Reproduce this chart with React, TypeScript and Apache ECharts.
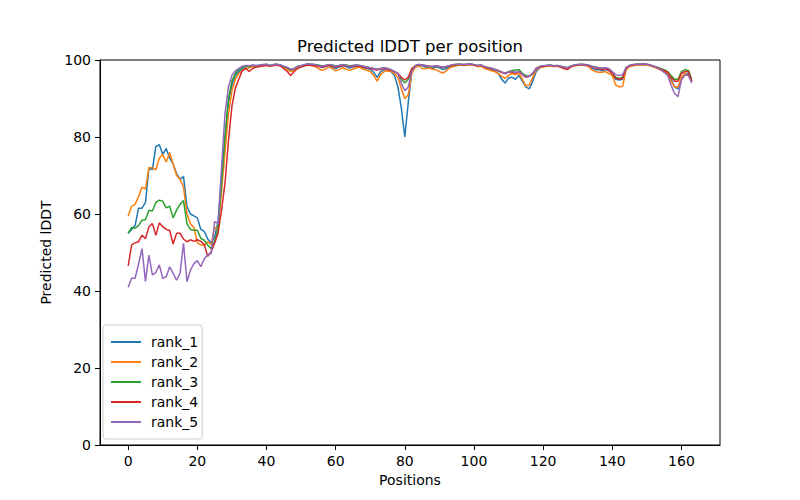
import React, { useEffect, useRef } from "react";
import * as echarts from "echarts";

const seriesNames = ["rank_1", "rank_2", "rank_3", "rank_4", "rank_5"];
const colors = ["#1f77b4", "#ff7f0e", "#2ca02c", "#d62728", "#9467bd"];
const xTicks = [0, 20, 40, 60, 80, 100, 120, 140, 160];
const titleText = "Predicted lDDT per position";
const xLabel = "Positions";
const yLabel = "Predicted lDDT";

const rank1 = [
  55, 56, 57, 61.5, 61.5, 63, 72, 71.5, 77.5, 78,
  75.5, 77, 74.5, 73, 70.5, 69, 69.7, 62, 60, 59.5,
  59, 56, 55.5, 53.5, 52.5, 54, 58, 70, 80, 89,
  93.5, 96, 97, 97.8, 98.3, 98.2, 98.5, 98.4, 98.5, 98.6,
  98.8, 98.5, 98.7, 98.8, 98.6, 98.2, 97.8, 97.2, 97.6, 98.2,
  98.4, 98.7, 98.9, 98.8, 98.7, 98.5, 98.0, 98.3, 98.6, 98.2,
  97.8, 98.2, 98.5, 98.3, 97.9, 98.2, 98.4, 98.3, 98.0, 97.8,
  97.6, 96.8, 95.5, 97.0, 97.5, 97.3, 97.0, 96.0, 93.0, 87.5,
  80.0, 89.0, 97.0, 98.3, 98.7, 98.5, 98.2, 98.0, 97.8, 98.2,
  98.0, 97.5, 97.8, 98.3, 98.5, 98.6, 98.8, 98.7, 98.8, 98.9,
  98.7, 98.5, 98.6, 98.0, 97.8, 97.5, 97.2, 96.5, 95.0, 94.0,
  95.3, 95.5, 95.0, 96.0, 94.5, 93.0, 92.5, 94.5, 97.0, 98.0,
  98.3, 98.5, 98.6, 98.4, 98.5, 98.3, 98.0, 97.8, 98.3, 98.6,
  98.7, 98.8, 98.7, 98.5, 98.0, 97.5, 97.5, 97.2, 97.5, 97.3,
  96.5, 95.0, 94.8, 95.0, 97.8, 98.5, 98.7, 98.8, 98.8, 98.9,
  98.8, 98.6, 98.3, 98.0, 97.6, 97.3, 96.8, 95.0, 93.0, 92.5,
  95.0, 96.5, 96.5, 94.5,
];

const rank2 = [
  59.5, 62, 62.5, 64.5, 67, 66.5, 72, 72, 71.5, 74.5,
  75.5, 73.5, 76, 73, 70, 69, 67, 60, 57.5, 56.5,
  52.5, 52, 51.8, 52.8, 52, 56.5, 56, 66, 76, 86,
  92, 95, 96.5, 97.2, 97.8, 98.0, 98.3, 98.2, 98.4, 98.5,
  98.6, 98.4, 98.6, 98.7, 98.5, 98.0, 97.5, 97.0, 97.3, 98.0,
  98.2, 98.5, 98.7, 98.6, 98.3, 97.8, 97.3, 97.6, 98.2, 97.8,
  97.2, 97.5, 98.0, 97.6, 97.3, 97.6, 98.0, 98.1, 97.6, 97.3,
  97.0, 96.0, 94.5, 96.2, 97.0, 97.2, 97.0, 96.5, 95.5, 92.5,
  90.0, 91.0, 96.5, 98.0, 98.5, 97.8, 97.7, 98.0, 97.6, 97.5,
  97.0, 96.6, 97.2, 98.0, 98.3, 98.5, 98.7, 98.6, 98.7, 98.8,
  98.6, 98.3, 98.4, 97.8, 97.5, 97.2, 97.0, 96.5, 95.8, 95.2,
  96.0, 96.5, 96.2, 96.5, 95.0, 93.3, 93.5, 95.5, 97.5, 98.0,
  98.2, 98.4, 98.5, 98.3, 98.4, 98.1, 97.9, 97.7, 98.2, 98.5,
  98.6, 98.7, 98.6, 98.4, 97.5, 97.0, 96.8, 96.8, 97.0, 96.5,
  96.0, 93.5, 93.0, 93.2, 97.5, 98.3, 98.5, 98.7, 98.7, 98.8,
  98.7, 98.5, 98.2, 97.8, 97.4, 97.0, 96.3, 94.5, 93.0, 93.0,
  95.5, 96.5, 96.0, 94.5,
];

const rank3 = [
  55, 56.5, 56.3, 57, 58.4, 58.5, 61, 60.8, 63, 63.6,
  63.3, 61.6, 62, 59, 61, 62.5, 63.5, 57.5, 56, 55.8,
  55.8, 53.7, 53.2, 51.9, 51, 53, 56, 68, 80, 90,
  94.5, 96.5, 97.5, 98, 98.5, 98.3, 98.6, 98.5, 98.6, 98.7,
  98.9, 98.6, 98.8, 98.9, 98.7, 98.3, 98.0, 97.5, 97.8, 98.4,
  98.5, 98.8, 99.0, 98.9, 98.8, 98.7, 98.5, 98.6, 98.8, 98.7,
  98.5, 98.6, 98.8, 98.7, 98.5, 98.6, 98.7, 98.6, 98.4, 98.2,
  98.0, 97.8, 97.5, 97.8, 98.0, 97.8, 97.5, 97.0, 96.5, 95.0,
  94.0, 95.0, 97.5, 98.5, 98.8, 98.7, 98.5, 98.3, 98.2, 98.4,
  98.2, 98.0, 98.2, 98.5, 98.7, 98.8, 98.9, 98.8, 98.9, 99.0,
  98.8, 98.6, 98.7, 98.3, 98.0, 97.8, 97.6, 97.2, 96.8, 96.5,
  97.0, 97.2, 97.4, 97.5, 96.5, 96.0, 95.8, 96.5, 97.8, 98.3,
  98.5, 98.6, 98.7, 98.5, 98.6, 98.4, 98.2, 98.0, 98.4, 98.7,
  98.8, 98.9, 98.8, 98.7, 98.4, 98.2, 98.0, 97.8, 97.9, 97.5,
  96.5, 95.5, 95.2, 95.5, 98.0, 98.6, 98.8, 98.9, 98.9, 99.0,
  98.9, 98.7, 98.4, 98.1, 97.8, 97.5, 97.0, 96.0, 95.0, 95.0,
  97.0, 97.5, 97.3, 95.0,
];

const rank4 = [
  46.5, 52, 52.5, 52.8, 54.5, 53.6, 56.7, 57.5, 54.5, 57.7,
  56.7, 56, 55.7, 52.2, 55, 55, 53.5, 52.8, 53.3, 52.9,
  53.3, 52.9, 52.1, 49, 50.2, 52.4, 55, 61, 68, 79,
  88, 92.7, 95, 97.3, 97.8, 97.0, 97.8, 98.2, 98.3, 98.5,
  98.6, 98.4, 98.6, 98.7, 98.4, 97.8, 97.0, 96.0, 97.0, 97.8,
  98.2, 98.5, 98.7, 98.6, 98.5, 98.4, 98.2, 98.4, 98.6, 98.4,
  98.2, 98.4, 98.6, 98.5, 98.3, 98.4, 98.5, 98.4, 98.2, 98.0,
  97.8, 97.6, 97.4, 97.6, 97.8, 97.6, 97.3, 97.0, 96.5, 95.5,
  94.8, 95.5, 97.8, 98.5, 98.8, 98.7, 98.5, 98.4, 98.3, 98.5,
  98.3, 98.1, 98.3, 98.5, 98.7, 98.8, 98.8, 98.7, 98.8, 98.9,
  98.7, 98.5, 98.6, 98.2, 98.0, 97.8, 97.5, 97.2, 96.8, 96.5,
  96.8, 96.8, 96.6, 97.0, 96.2, 95.5, 95.8, 96.5, 97.8, 98.2,
  98.4, 98.5, 98.6, 98.4, 98.5, 98.2, 97.8, 97.5, 98.2, 98.6,
  98.7, 98.8, 98.7, 98.6, 98.3, 98.0, 97.8, 97.6, 97.8, 97.3,
  96.5, 95.3, 95.0, 95.3, 97.8, 98.5, 98.7, 98.8, 98.8, 98.9,
  98.8, 98.6, 98.3, 98.0, 97.6, 97.3, 96.8, 95.5, 94.5, 94.5,
  96.5, 97.0, 97.0, 94.5,
];

const rank5 = [
  41, 43.3, 43.3, 47, 51, 42.5, 49.3, 44.2, 44.8, 46.8,
  43.3, 43.7, 46.3, 44.6, 42.8, 44.6, 52.4, 42.4, 45.4, 47.1,
  47.9, 46.3, 48.4, 49.4, 49.8, 58, 57.6, 72, 86, 93,
  96, 97.2, 97.8, 98.4, 98.6, 98.5, 98.7, 98.6, 98.7, 98.8,
  98.9, 98.6, 98.8, 98.9, 98.7, 98.4, 98.1, 97.6, 97.8, 98.3,
  98.5, 98.8, 99.0, 98.9, 98.8, 98.6, 98.4, 98.6, 98.8, 98.6,
  98.4, 98.6, 98.8, 98.6, 98.4, 98.6, 98.7, 98.6, 98.4, 98.2,
  98.0, 97.8, 97.6, 97.8, 98.0, 97.8, 97.5, 97.0, 96.5, 94.0,
  92.0, 93.0, 97.0, 98.5, 98.8, 98.7, 98.6, 98.4, 98.3, 98.5,
  98.3, 98.1, 98.3, 98.6, 98.8, 98.9, 98.9, 98.8, 98.9, 99.0,
  98.8, 98.6, 98.7, 98.3, 98.1, 97.9, 97.6, 97.3, 96.9, 96.6,
  96.8, 97.0, 96.8, 97.0, 96.3, 95.6, 95.8, 96.5, 97.8, 98.3,
  98.5, 98.6, 98.7, 98.5, 98.6, 98.4, 98.2, 98.0, 98.4, 98.7,
  98.8, 98.9, 98.8, 98.7, 98.4, 98.2, 98.0, 97.9, 98.0, 97.8,
  97.0, 96.2, 96.0, 96.2, 98.0, 98.6, 98.8, 98.9, 98.9, 99.0,
  98.9, 98.7, 98.4, 98.0, 97.5, 96.8, 96.0, 93.5, 91.3, 90.5,
  94.8, 96.1, 96.0, 94.0,
];

const allSeries = [rank1, rank2, rank3, rank4, rank5];

export default function App() {
  const ref = useRef<HTMLDivElement>(null);
  useEffect(() => {
    if (!ref.current) return;
    const chart = echarts.init(ref.current, null, { renderer: "svg" });
    const font = "DejaVu Sans";
    const n = rank1.length;
    const margin = (n - 1) * 0.05;
    chart.setOption({
      animation: false,
      backgroundColor: "#ffffff",
      grid: {
        left: 100,
        right: 80,
        top: 60,
        bottom: 55,
        show: true,
        borderColor: "#000000",
        borderWidth: 1,
        backgroundColor: "transparent",
      },
      graphic: [
        {
          type: "text",
          x: 410,
          y: 46,
          style: {
            text: titleText,
            fill: "#000000",
            font: `16.5px "${font}"`,
            fontSize: 16.5,
            fontFamily: font,
            textAlign: "center",
            align: "center",
            textVerticalAlign: "middle",
            verticalAlign: "middle",
          },
        },
      ],
      legend: {
        data: seriesNames,
        orient: "vertical",
        left: 103,
        top: 325,
        icon: "rect",
        itemWidth: 30,
        itemHeight: 2,
        itemGap: 6,
        padding: [10, 4, 10, 8],
        backgroundColor: "rgba(255,255,255,0.8)",
        borderColor: "#cccccc",
        borderWidth: 1,
        borderRadius: 3,
        textStyle: {
          fontSize: 14,
          fontFamily: font,
          color: "#000000",
          lineHeight: 14,
          padding: [0, 0, 0, 5],
        },
      },
      xAxis: {
        type: "value",
        min: -margin,
        max: n - 1 + margin,
        name: xLabel,
        nameLocation: "middle",
        nameGap: 28,
        nameTextStyle: { fontSize: 14, fontFamily: font, color: "#000000" },
        axisLine: { show: true, onZero: false, lineStyle: { color: "#000000", width: 1 } },
        axisTick: { show: true, length: 5, customValues: xTicks, lineStyle: { color: "#000000" } },
        axisLabel: { customValues: xTicks, color: "#000000", fontSize: 14, fontFamily: font, margin: 9 },
        splitLine: { show: false },
      },
      yAxis: {
        type: "value",
        min: 0,
        max: 100,
        interval: 20,
        name: yLabel,
        nameLocation: "middle",
        nameGap: 40,
        nameRotate: 90,
        nameTextStyle: { fontSize: 14, fontFamily: font, color: "#000000" },
        axisLine: { show: true, onZero: false, lineStyle: { color: "#000000", width: 1 } },
        axisTick: { show: true, length: 5, lineStyle: { color: "#000000" } },
        axisLabel: { color: "#000000", fontSize: 14, fontFamily: font, margin: 9 },
        splitLine: { show: false },
      },
      series: allSeries.map((vals, k) => ({
        name: seriesNames[k],
        type: "line",
        symbol: "none",
        showSymbol: false,
        color: colors[k],
        lineStyle: { color: colors[k], width: 1.5 },
        itemStyle: { color: colors[k] },
        data: vals.map((v, i) => [i, v]),
      })),
    });
    return () => chart.dispose();
  }, []);
  return (
    <div
      ref={ref}
      style={{ position: "fixed", left: 0, top: 0, width: 800, height: 500, background: "#ffffff" }}
    />
  );
}
